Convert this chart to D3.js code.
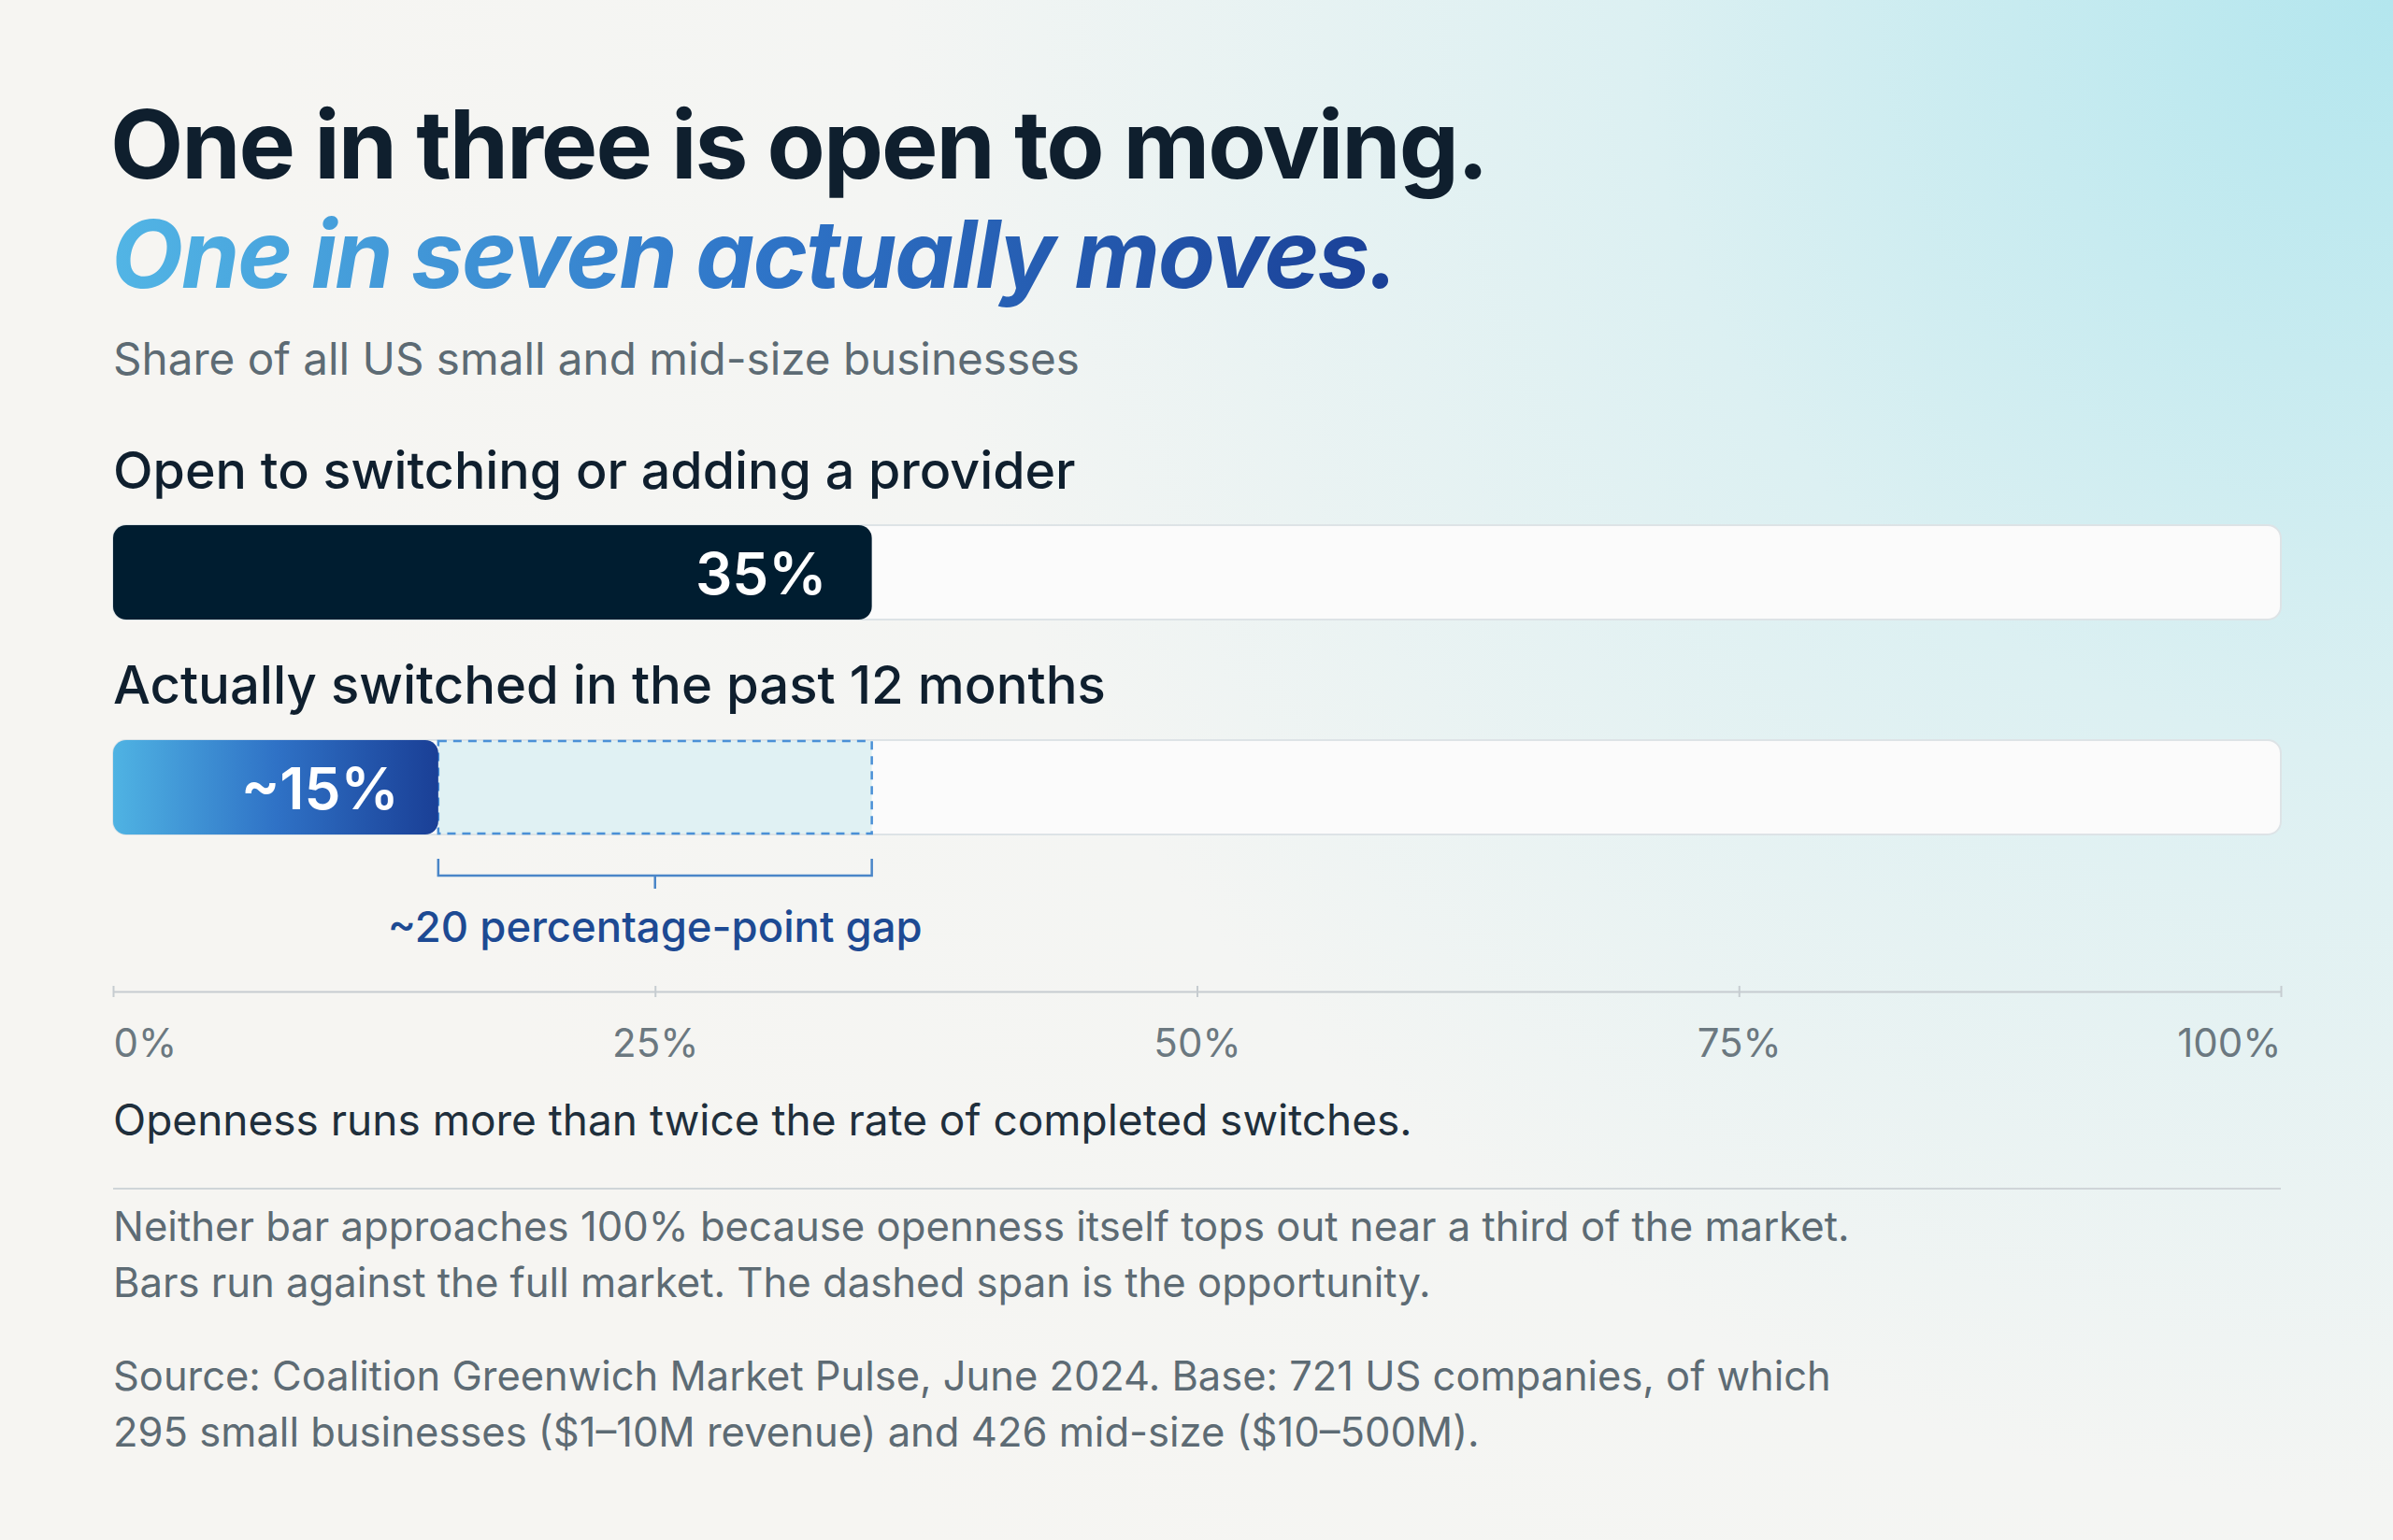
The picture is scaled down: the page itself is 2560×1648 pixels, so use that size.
<!DOCTYPE html>
<html><head><meta charset="utf-8">
<script src="https://cdn.jsdelivr.net/npm/d3@7"></script>
<style>body{margin:0}svg{display:block}text{font-family:Inter,"Noto Sans",sans-serif}</style>
</head><body>
<script>
const categories = ['Open to switching or adding a provider', 'Actually switched in the past 12 months']
const values = [35, 15]
const valueLabels = ['35%', '~15%']
const tickValues = [0, 25, 50, 75, 100]
const gapLabel = '~20 percentage-point gap'

const W = 2560, H = 1648
const svg = d3.select('body').append('svg').attr('width', W).attr('height', H)
const defs = svg.append('defs')

// background: warm off-white with a cyan glow top right
const bg = defs.append('radialGradient').attr('id', 'bg').attr('cx', 1).attr('cy', 0).attr('r', 0.9)
  .attr('gradientTransform', 'scale(1,1.55)')
bg.append('stop').attr('offset', 0).attr('stop-color', '#b3e6ee')
bg.append('stop').attr('offset', 0.35).attr('stop-color', '#dcf0f2')
bg.append('stop').attr('offset', 0.7).attr('stop-color', '#f4f5f3')
bg.append('stop').attr('offset', 1).attr('stop-color', '#f6f5f2')
svg.append('rect').attr('width', W).attr('height', H).attr('fill', '#f6f5f2')
svg.append('rect').attr('width', W).attr('height', H).attr('fill', 'url(#bg)')

const blue = defs.append('linearGradient').attr('id', 'blue')
blue.append('stop').attr('offset', 0).attr('stop-color', '#4fb3e3')
blue.append('stop').attr('offset', 0.5).attr('stop-color', '#2f72c6')
blue.append('stop').attr('offset', 1).attr('stop-color', '#1a3f96')
const tgrad = defs.append('linearGradient').attr('id', 'tgrad').attr('gradientUnits', 'userSpaceOnUse')
  .attr('x1', 121).attr('x2', 1495)
tgrad.append('stop').attr('offset', 0).attr('stop-color', '#52b5e5')
tgrad.append('stop').attr('offset', 0.5).attr('stop-color', '#2f75c8')
tgrad.append('stop').attr('offset', 1).attr('stop-color', '#1a3f96')

const fit = (sel, w) => {
  const n = sel.node(), cur = n.getComputedTextLength()
  const fs = parseFloat(sel.attr('font-size'))
  sel.attr('font-size', fs * w / cur)
  return sel
}

const L = 121, R = 2440
const x = d3.scaleLinear().domain([0, 100]).range([L, R])

fit(svg.append('text').attr('x', L - 3).attr('y', 191).attr('font-size', 100).attr('font-weight', 700)
  .attr('fill', '#0f1f2e').attr('letter-spacing', -2).text('One in three is open to moving.'), 1472)
fit(svg.append('text').attr('x', L - 2).attr('y', 308).attr('font-size', 100).attr('font-weight', 700)
  .attr('font-style', 'italic').attr('letter-spacing', -2).attr('fill', 'url(#tgrad)').text('One in seven actually moves.'), 1376)
fit(svg.append('text').attr('x', L).attr('y', 401).attr('font-size', 44).attr('fill', '#5d6b74')
  .text('Share of all US small and mid-size businesses'), 1034)

const barY = [562, 792], barH = 101, labelY = [523, 753]
categories.forEach((c, i) => {
  fit(svg.append('text').attr('x', L).attr('y', labelY[i]).attr('font-size', 52).attr('font-weight', 500)
    .attr('fill', '#0f1f2e').text(c), i ? 1062 : 1030)
  svg.append('rect').attr('x', x(0)).attr('y', barY[i]).attr('width', x(100) - x(0)).attr('height', barH)
    .attr('rx', 14).attr('fill', '#fbfbfb').attr('stroke', '#dde3e6').attr('stroke-width', 2)
})

// dashed opportunity span
svg.append('rect').attr('x', x(values[1])).attr('y', barY[1] + 1).attr('width', x(values[0]) - x(values[1]))
  .attr('height', barH - 2).attr('fill', '#e0f1f3').attr('stroke', '#4a90d6').attr('stroke-width', 2.5)
  .attr('stroke-dasharray', '9,7')

values.forEach((v, i) => {
  svg.append('rect').attr('x', x(0)).attr('y', barY[i]).attr('width', x(v) - x(0)).attr('height', barH)
    .attr('rx', 14).attr('fill', i ? 'url(#blue)' : '#001d30')
  svg.append('text').attr('x', x(v) - (i ? 42 : 48)).attr('y', barY[i] + barH / 2 + 23)
    .attr('text-anchor', 'end').attr('font-size', 62).attr('font-weight', 600).attr('fill', '#fff')
    .text(valueLabels[i])
})

// bracket
const by = 937
svg.append('path').attr('fill', 'none').attr('stroke', '#4a86c8').attr('stroke-width', 2.5)
  .attr('d', `M${x(values[1])},${by - 18}V${by}H${x(values[0])}V${by - 18}M${(x(values[0]) + x(values[1])) / 2},${by}v14`)
fit(svg.append('text').attr('x', (x(values[0]) + x(values[1])) / 2).attr('y', 1008).attr('text-anchor', 'middle')
  .attr('font-size', 44).attr('font-weight', 500).attr('fill', '#1d4a93').text(gapLabel), 572)

// axis
const ax = svg.append('g').attr('transform', 'translate(0,1061)')
  .call(d3.axisBottom(x).tickValues(tickValues).tickFormat(d => d + '%').tickSize(10).tickSizeOuter(0))
ax.select('.domain').attr('stroke', '#c6ccd0').attr('stroke-width', 2)
ax.selectAll('.tick line').attr('stroke', '#c6ccd0').attr('stroke-width', 2).attr('y1', -6).attr('y2', 6)
ax.selectAll('.tick text').attr('font-size', 42).attr('fill', '#6b7880').attr('dy', 0).attr('y', 70)
  .attr('text-anchor', (d, i) => i === 0 ? 'start' : i === tickValues.length - 1 ? 'end' : 'middle')

fit(svg.append('text').attr('x', L).attr('y', 1215).attr('font-size', 44).attr('fill', '#1f2f3c')
  .text('Openness runs more than twice the rate of completed switches.'), 1390)
svg.append('line').attr('x1', L).attr('x2', R).attr('y1', 1272).attr('y2', 1272).attr('stroke', '#cfd5d8').attr('stroke-width', 2)

const notes = ['Neither bar approaches 100% because openness itself tops out near a third of the market.',
  'Bars run against the full market. The dashed span is the opportunity.']
const source = ['Source: Coalition Greenwich Market Pulse, June 2024. Base: 721 US companies, of which',
  '295 small businesses ($1–10M revenue) and 426 mid-size ($10–500M).']
const nw = [1858, 1410], sw = [1838, 1462]
notes.forEach((t, i) => fit(svg.append('text').attr('x', L).attr('y', 1328 + i * 60).attr('font-size', 40)
  .attr('fill', '#5d6b74').text(t), nw[i]))
source.forEach((t, i) => fit(svg.append('text').attr('x', L).attr('y', 1488 + i * 60).attr('font-size', 40)
  .attr('fill', '#5d6b74').text(t), sw[i]))
</script>
</body></html>
